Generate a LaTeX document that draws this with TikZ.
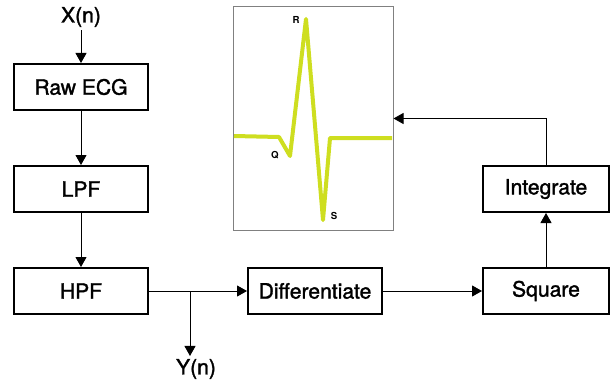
\documentclass[tikz,border=0pt]{standalone}
\usepackage{fontspec}
\setmainfont{TeX Gyre Heros}
\newfontfamily\blockfont{TeX Gyre Heros}[FakeBold=1.5]
\usetikzlibrary{arrows.meta,positioning}
\definecolor{ecgyellow}{RGB}{206,222,32}

\begin{document}
\begin{tikzpicture}[x=0.4mm,y=-0.4mm]
\tikzset{
  block/.style={rectangle,draw,line width=0.8mm,minimum width=53.6mm,minimum height=18.4mm,inner sep=0pt,font=\blockfont\fontsize{24}{28}\selectfont},
  sigtext/.style={font=\blockfont\fontsize{24}{28}\selectfont},
  flow/.style={-{Triangle[length=4mm,width=4.4mm]},line width=0.4mm},
  wave/.style={ecgyellow,line width=1.6mm,line join=round},
  peak/.style={font=\fontsize{11}{13}\selectfont\bfseries,inner sep=0pt}
}
\useasboundingbox (0,0) rectangle (610,383);
\node[block] (raw) at (81,87) {Raw ECG};
\node[block] (lpf) at (81,189) {LPF};
\node[block] (hpf) at (81,291) {HPF};
\node[block] (diff) at (315,291) {Differentiate};
\node[block,minimum width=50.4mm] (sq) at (546,291) {Square};
\node[block,minimum width=50.4mm] (integ) at (546,189) {Integrate};
\node[sigtext] (xin) at (81,17) {X(n)};
\node[sigtext] (yout) at (196,369) {Y(n)};
\coordinate (tap) at (190,291);
% ECG trace window
\node[draw=gray,line width=0.4mm,minimum width=64mm,minimum height=89.2mm,inner sep=0pt] (ecg) at (313,118.5) {};
\draw[wave] (234,136) -- (279,137) -- (290,156) -- (306,19) -- (323,220) -- (330,138) -- (392,138);
\node[peak] (pr) at (296,20) {R};
\node[peak] (pq) at (275,155) {Q};
\node[peak] (ps) at (334,216) {S};
% signal flow
\draw[flow] (xin) -- (raw);
\draw[flow] (raw) -- (lpf);
\draw[flow] (lpf) -- (hpf);
\draw[flow] (hpf) -- (diff);
\draw[flow] (tap) -- (tap |- yout.north);
\draw[flow] (diff) -- (sq);
\draw[flow] (sq) -- (integ);
\draw[flow] (integ) |- (ecg);
\end{tikzpicture}
\end{document}
